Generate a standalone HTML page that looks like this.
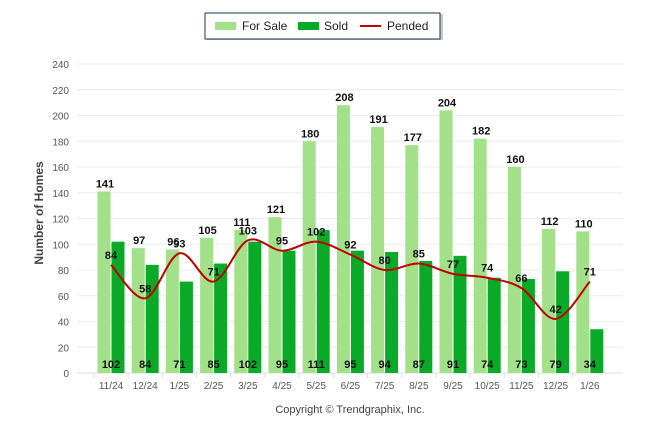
<!DOCTYPE html>
<html><head><meta charset="utf-8"><style>
body{margin:0;background:#fff;width:646px;height:434px;overflow:hidden;font-family:"Liberation Sans",sans-serif}
</style></head><body>
<svg width="646" height="434">
<g id="grid"></g><g id="bars"></g><g id="line"></g><g id="labels"></g>
<g>
<rect x="207" y="14" width="236" height="26" fill="#9aa" opacity="0.6"/>
<rect x="205" y="13" width="235" height="26" fill="#fff" stroke="#1f2f55" stroke-width="1"/>
<rect x="215" y="22" width="21" height="8" fill="#a2e08a"/>
<text x="242" y="30" font-size="12" fill="#222">For Sale</text>
<rect x="298" y="22" width="21" height="8" fill="#0aa928"/>
<text x="324" y="30" font-size="12" fill="#222">Sold</text>
<line x1="360" y1="26" x2="381" y2="26" stroke="#c00000" stroke-width="2"/>
<text x="387" y="30" font-size="12" fill="#222">Pended</text>
</g>
<text transform="translate(43,213) rotate(-90)" text-anchor="middle" font-size="12" font-weight="bold" fill="#444">Number of Homes</text>
<text x="350" y="413" text-anchor="middle" font-size="11" fill="#444">Copyright © Trendgraphix, Inc.</text>
</svg>
<script>
const categories=["11/24","12/24","1/25","2/25","3/25","4/25","5/25","6/25","7/25","8/25","9/25","10/25","11/25","12/25","1/26"];
const forSale=[141,97,96,105,111,121,180,208,191,177,204,182,160,112,110];
const sold=[102,84,71,85,102,95,111,95,94,87,91,74,73,79,34];
const pended=[84,58,93,71,103,95,102,92,80,85,77,74,66,42,71];
const yTicks=[0,20,40,60,80,100,120,140,160,180,200,220,240];
const NS="http://www.w3.org/2000/svg";
const y=v=>373-v*(309/240);
const x=i=>111+i*34.2;
function mk(parent,tag,attrs,text){const e=document.createElementNS(NS,tag);for(const k in attrs)e.setAttribute(k,attrs[k]);if(text!==undefined)e.textContent=text;document.getElementById(parent).appendChild(e);return e;}
yTicks.forEach(t=>{
 const g=mk('grid','line',{x1:77,x2:623,y1:y(t),y2:y(t),stroke:t===0?'#ddd':'#ececec'});
 
 
 const l=mk('grid','text',{x:69,y:y(t)+4,'text-anchor':'end','font-size':10,fill:'#555'},t);
 
 
});
categories.forEach((c,i)=>{
 const tk=mk('grid','line',{x1:x(i)-17.1,x2:x(i)-17.1,y1:373,y2:378,stroke:'#ddd'});
 
 
 const l=mk('grid','text',{x:x(i),y:389,'text-anchor':'middle','font-size':10,fill:'#555'},c);
 
 
 const b1=mk('bars','rect',{x:x(i)-13.5,y:y(forSale[i]),width:13,height:373-y(forSale[i]),fill:'#a2e08a'});
 
 
 const b2=mk('bars','rect',{x:x(i)+0.5,y:y(sold[i]),width:13,height:373-y(sold[i]),fill:'#0aa928'});
 
 
 const t1=mk('labels','text',{x:x(i)-6,y:y(forSale[i])-4,'text-anchor':'middle','font-size':11,'font-weight':'bold',fill:'#111'},forSale[i]);
 
 
 const t2=mk('labels','text',{x:x(i),y:368,'text-anchor':'middle','font-size':11,'font-weight':'bold',fill:'#111'},sold[i]);
 
 
 const t3=mk('labels','text',{x:x(i),y:y(pended[i])-6,'text-anchor':'middle','font-size':11,'font-weight':'bold',fill:'#111'},pended[i]);
 
 
});
const P=pended.map((v,i)=>[x(i),y(v)]);
let d='M'+P[0][0]+','+P[0][1];
for(let i=0;i<P.length-1;i++){
 const p0=P[i-1]||P[i],p1=P[i],p2=P[i+1],p3=P[i+2]||P[i+1];
 const c1=[p1[0]+(p2[0]-p0[0])/6,p1[1]+(p2[1]-p0[1])/6],c2=[p2[0]-(p3[0]-p1[0])/6,p2[1]-(p3[1]-p1[1])/6];
 d+=' C'+c1+' '+c2+' '+p2;
}
const ln=mk('line','path',{d:d,fill:'none',stroke:'#c00000','stroke-width':2});


</script>
</body></html>
